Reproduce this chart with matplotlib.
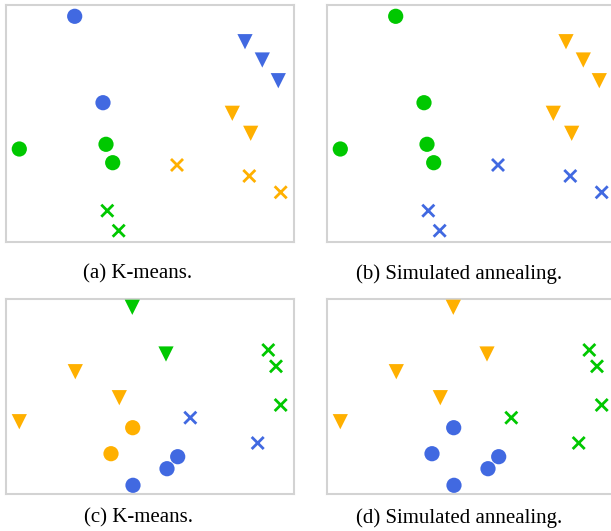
import matplotlib.pyplot as plt

# point positions (x right, y down), grouped by true cluster
top_circles_x = [68.7, 97, 13.3, 100, 106.7]
top_circles_y = [11.3, 97.7, 144, 139.3, 157.7]
top_tri_x = [239, 256.3, 272.3, 226.3, 244.7]
top_tri_y = [36.7, 55, 75.7, 108.3, 128.3]
top_cross_x = [171, 243.3, 274.7, 101.3, 112.7]
top_cross_y = [160, 171, 187.3, 205.7, 225.7]

bot_tri_x = [126.3, 160, 69.3, 113.3, 13.3]
bot_tri_y = [8.3, 55, 72.7, 98.7, 122.7]
bot_circles_x = [126.7, 105, 171.7, 161, 127]
bot_circles_y = [128.7, 154.7, 157.7, 169.7, 186.3]
bot_cross_x = [184.3, 251.7, 262.3, 270, 274.7]
bot_cross_y = [118.7, 144, 51, 67.3, 106]

# cluster labels given by each method
a_circles = ["b", "b", "g", "g", "g"]
a_tri = ["b", "b", "b", "o", "o"]
a_cross = ["o", "o", "o", "g", "g"]
b_circles = ["g"] * 5
b_tri = ["o"] * 5
b_cross = ["b"] * 5
c_tri = ["g", "g", "o", "o", "o"]
c_circles = ["o", "o", "b", "b", "b"]
c_cross = ["b", "b", "g", "g", "g"]
d_tri = ["o"] * 5
d_circles = ["b"] * 5
d_cross = ["g"] * 5

captions = ["(a) K-means.", "(b) Simulated annealing.",
            "(c) K-means.", "(d) Simulated annealing."]

colors = {"b": "#4169E1", "g": "#00C800", "o": "#FFB000"}

W, H = 611, 531
fig = plt.figure(figsize=(W / 100, H / 100), dpi=100)


def panel(left, top, width, height, xlim, ylim, groups, caption, cap_x, cap_y):
    ax = fig.add_axes([left / W, 1 - (top + height) / H, width / W, height / H])
    for xs, ys, labs, marker in groups:
        cs = [colors[l] for l in labs]
        if marker == "x":
            ax.scatter(xs, ys, c=cs, marker="x", s=75, linewidths=2.0, zorder=3)
        else:
            ax.scatter(xs, ys, c=cs, marker=marker, s=120, linewidths=0, zorder=3)
    ax.set_xlim(0, xlim)
    ax.set_ylim(ylim, 0)
    ax.set_xticks([])
    ax.set_yticks([])
    for sp in ax.spines.values():
        sp.set_color("#d3d3d3")
        sp.set_linewidth(1.5)
    fig.text(cap_x / W, 1 - cap_y / H, caption, ha="center", va="center",
             fontsize=15, family="Liberation Serif")


top_groups = lambda c, t, x: [(top_circles_x, top_circles_y, c, "o"),
                              (top_tri_x, top_tri_y, t, "v"),
                              (top_cross_x, top_cross_y, x, "x")]
bot_groups = lambda t, c, x: [(bot_tri_x, bot_tri_y, t, "v"),
                              (bot_circles_x, bot_circles_y, c, "o"),
                              (bot_cross_x, bot_cross_y, x, "x")]

panel(6, 5, 288, 237, 288, 237, top_groups(a_circles, a_tri, a_cross), captions[0], 138, 274)
panel(327, 5, 288, 237, 288, 237, top_groups(b_circles, b_tri, b_cross), captions[1], 459, 274)
panel(6, 299, 288, 195, 288, 195, bot_groups(c_tri, c_circles, c_cross), captions[2], 138, 518)
panel(327, 299, 288, 195, 288, 195, bot_groups(d_tri, d_circles, d_cross), captions[3], 459, 518)

fig.savefig("out.png", dpi=100)
